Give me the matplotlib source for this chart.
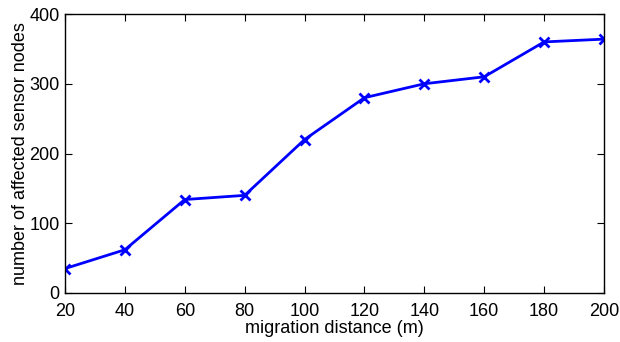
import matplotlib
matplotlib.use("Agg")
import matplotlib.pyplot as plt

distance = [20, 40, 60, 80, 100, 120, 140, 160, 180, 200]
affected = [35, 62, 134, 140, 220, 280, 300, 310, 360, 364]
xticks = [20, 40, 60, 80, 100, 120, 140, 160, 180, 200]
yticks = [0, 100, 200, 300, 400]

plt.rcParams['font.family'] = ['Liberation Sans', 'DejaVu Sans']

fig = plt.figure(figsize=(6.2, 3.42), dpi=100)
ax = fig.add_axes([0.1048, 0.1433, 0.8694, 0.8157])
ax.plot(distance, affected, color='#0000ff', linewidth=2, marker='x',
        markersize=7, markeredgewidth=2)
ax.set_xlim(20, 200)
ax.set_ylim(0, 400)
ax.set_xticks(xticks)
ax.set_yticks(yticks)
ax.tick_params(direction='in', top=True, right=True, labelsize=13, length=5)
ax.tick_params(axis='x', pad=7)
ax.tick_params(axis='y', pad=4)
ax.set_xlabel('migration distance (m)', fontsize=13, labelpad=0)
ax.set_ylabel('number of affected sensor nodes', fontsize=13, labelpad=0)
for s in ax.spines.values():
    s.set_linewidth(1)
fig.savefig('out.png', dpi=100)
